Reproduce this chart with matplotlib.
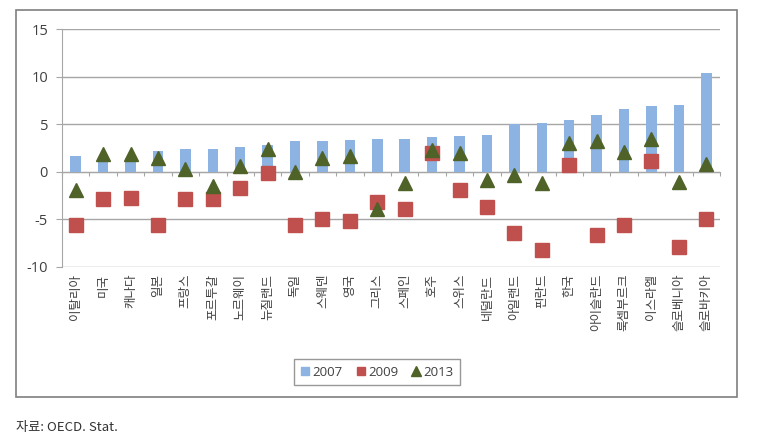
import numpy as np
import matplotlib
matplotlib.use("Agg")
import matplotlib.pyplot as plt
from matplotlib.patches import Rectangle
from matplotlib.lines import Line2D

plt.rcParams['font.family'] = ['Noto Sans CJK KR', 'DejaVu Sans']

countries = ['이탈리아', '미국', '캐나다', '일본', '프랑스', '포르투갈', '노르웨이', '뉴질랜드',
             '독일', '스웨덴', '영국', '그리스', '스페인', '호주', '스위스', '네덜란드',
             '아일랜드', '핀란드', '한국', '아이슬란드', '룩셈부르크', '이스라엘', '슬로베니아', '슬로바키아']
v2007 = [1.7, 1.4, 1.5, 2.2, 2.4, 2.4, 2.65, 2.8, 3.25, 3.25, 3.35, 3.45,
         3.45, 3.67, 3.8, 3.9, 5.03, 5.17, 5.49, 5.94, 6.57, 6.89, 6.99, 10.45]
v2009 = [-5.56, -2.8, -2.7, -5.56, -2.87, -2.87, -1.64, -0.14, -5.63, -5.0, -5.17, -3.15,
         -3.85, 2.03, -1.89, -3.74, -6.4, -8.25, 0.7, -6.6, -5.63, 1.19, -7.9, -4.9]
v2013 = [-1.85, 1.92, 1.92, 1.43, 0.35, -1.43, 0.6, 2.45, 0.03, 1.5, 1.64, -3.9,
         -1.15, 2.34, 2.03, -0.8, -0.28, -1.15, 3.0, 3.29, 2.13, 3.46, -1.08, 0.84]
years = ['2007', '2009', '2013']
yticks = [-10, -5, 0, 5, 10, 15]

c_bar = '#8DB3E2'
c_sq = '#C0504D'
c_tri = '#4F6228'
grid_c = '#A6A6A6'

fig = plt.figure(figsize=(7.62, 4.41), dpi=100)
fig.patches.append(Rectangle((16 / 762, 1 - 397 / 441), (737 - 16) / 762, (397 - 10) / 441,
                             transform=fig.transFigure, fill=False, edgecolor='#7F7F7F', linewidth=1.2))

ax = fig.add_axes([62 / 762, 1 - 267 / 441, (720 - 62) / 762, (267 - 29.3) / 441])
x = np.arange(len(countries))

ax.bar(x, v2007, width=0.38, color=c_bar, zorder=2)
ax.plot(x, v2009, linestyle='none', marker='s', markersize=9.5, color=c_sq, zorder=3)
ax.plot(x, v2013, linestyle='none', marker='^', markersize=10, color=c_tri, zorder=4)

ax.set_xlim(-0.5, len(countries) - 0.5)
ax.set_ylim(-10, 15)
ax.set_yticks(yticks)
ax.set_yticklabels([str(t) for t in yticks], fontsize=10.5, family=['Open Sans', 'DejaVu Sans'], color='#404040')
for t in yticks:
    ax.axhline(t, color=grid_c, linewidth=1, zorder=1)

ax.set_xticks(x)
ax.set_xticklabels(countries, rotation=90, fontsize=9, color='#404040', va='top', ha='center')
ax.tick_params(axis='x', length=0, pad=5)
ax.tick_params(axis='y', length=4, color=grid_c, pad=6)

for s in ['top', 'right', 'bottom']:
    ax.spines[s].set_visible(False)
ax.spines['left'].set_color(grid_c)

# category axis at zero with ticks between categories
sec = ax.secondary_xaxis(10 / 25)
sec.set_xticks(np.arange(len(countries) + 1) - 0.5)
sec.set_xticklabels([])
sec.tick_params(axis='x', length=3, color=grid_c, direction='out')
sec.spines['bottom'].set_color(grid_c)

handles = [Line2D([], [], linestyle='none', marker='s', markersize=6, color=c_bar),
           Line2D([], [], linestyle='none', marker='s', markersize=6, color=c_sq),
           Line2D([], [], linestyle='none', marker='^', markersize=6.5, color=c_tri)]
leg = ax.legend(handles, years, loc='center', bbox_to_anchor=(377 / 762, 1 - 372 / 441),
                bbox_transform=fig.transFigure, ncol=3, fontsize=9.5, frameon=True, fancybox=False,
                edgecolor='#7F7F7F', handlelength=0.7, handletextpad=0.2, columnspacing=1.0,
                borderpad=0.5)
leg.get_frame().set_linewidth(1)
for txt in leg.get_texts():
    txt.set_color('#404040')
    txt.set_family(['Open Sans', 'DejaVu Sans'])

fig.text(16 / 762, 1 - 427 / 441, '자료: OECD. Stat.', fontsize=9.5, va='center', ha='left', color='#333333')

fig.savefig('out.png', dpi=100)
